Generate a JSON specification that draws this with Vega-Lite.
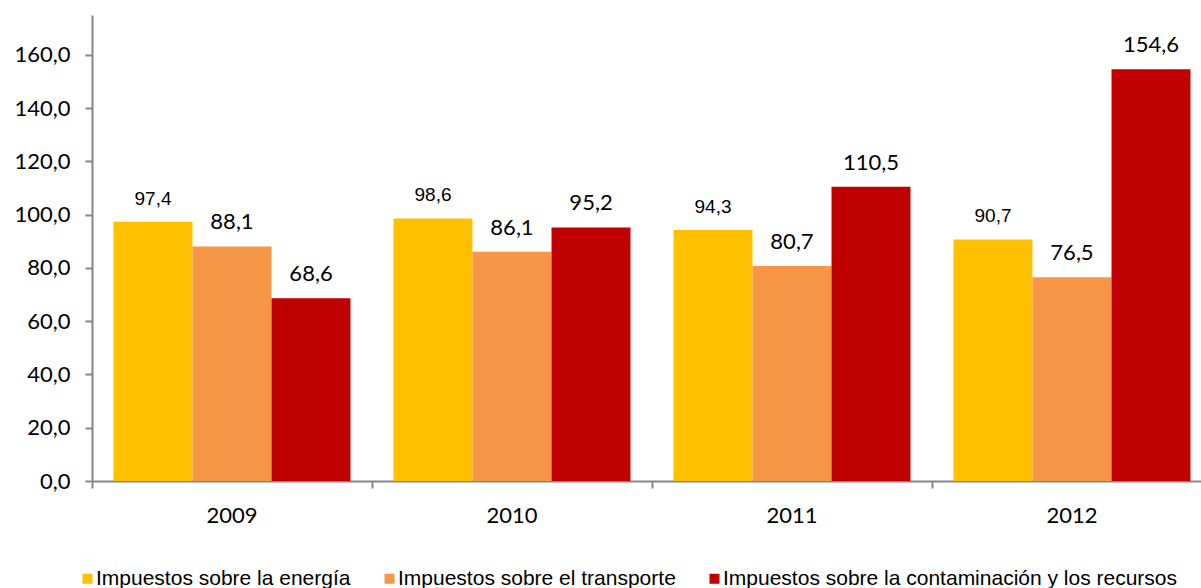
{
  "$schema": "https://vega.github.io/schema/vega-lite/v6.json",
  "autosize": {"type": "none"},
  "width": 1109,
  "height": 466,
  "padding": {"left": 92, "top": 15, "right": 0, "bottom": 107},
  "background": "white",
  "config": {
    "view": {"stroke": null},
    "locale": {"number": {"decimal": ",", "thousands": ".", "grouping": [3], "currency": ["", " €"]}}
  },
  "data": {
    "values": [
      {"year": "2009", "serie": "Impuestos sobre la energía", "value": 97.4},
      {"year": "2009", "serie": "Impuestos sobre el transporte", "value": 88.1},
      {"year": "2009", "serie": "Impuestos sobre la contaminación y los recursos", "value": 68.6},
      {"year": "2010", "serie": "Impuestos sobre la energía", "value": 98.6},
      {"year": "2010", "serie": "Impuestos sobre el transporte", "value": 86.1},
      {"year": "2010", "serie": "Impuestos sobre la contaminación y los recursos", "value": 95.2},
      {"year": "2011", "serie": "Impuestos sobre la energía", "value": 94.3},
      {"year": "2011", "serie": "Impuestos sobre el transporte", "value": 80.7},
      {"year": "2011", "serie": "Impuestos sobre la contaminación y los recursos", "value": 110.5},
      {"year": "2012", "serie": "Impuestos sobre la energía", "value": 90.7},
      {"year": "2012", "serie": "Impuestos sobre el transporte", "value": 76.5},
      {"year": "2012", "serie": "Impuestos sobre la contaminación y los recursos", "value": 154.6}
    ]
  },
  "resolve": {"axis": {"x": "independent"}},
  "layer": [
    {
      "mark": {"type": "bar"},
      "encoding": {
        "x": {
          "field": "year", "type": "nominal",
          "scale": {"range": [0, 1120], "paddingInner": 0, "paddingOuter": 0},
          "axis": {"orient": "bottom", "title": null, "labels": false, "bandPosition": 0, "tickSize": 7, "tickColor": "#868686", "tickWidth": 2, "domainColor": "#868686", "domainWidth": 2}
        },
        "xOffset": {
          "field": "serie", "type": "nominal",
          "scale": {"domain": ["Impuestos sobre la energía", "Impuestos sobre el transporte", "Impuestos sobre la contaminación y los recursos"], "paddingInner": 0, "paddingOuter": 0.272}
        },
        "y": {
          "field": "value", "type": "quantitative",
          "scale": {"domain": [0, 175], "nice": false},
          "axis": {"title": null, "values": [0, 20, 40, 60, 80, 100, 120, 140, 160], "format": ".1f", "grid": false, "tickSize": 7, "tickColor": "#868686", "tickWidth": 2, "domainColor": "#868686", "domainWidth": 2, "labelFont": "Lato", "labelFontSize": 22, "labelColor": "black", "labelPadding": 15}
        },
        "color": {
          "field": "serie", "type": "nominal",
          "scale": {"domain": ["Impuestos sobre la energía", "Impuestos sobre el transporte", "Impuestos sobre la contaminación y los recursos"], "range": ["#FFC000", "#F79646", "#C00000"]},
          "legend": {"title": null, "orient": "none", "legendX": -15, "legendY": 553, "direction": "horizontal", "symbolType": "square", "symbolSize": 100, "symbolStrokeWidth": 0, "labelFont": "Liberation Sans", "labelFontSize": 21, "labelColor": "black", "labelOffset": -2, "columnPadding": 28, "padding": 0, "labelLimit": 0}
        }
      }
    },
    {
      "transform": [{"filter": "datum.serie === 'Impuestos sobre la energía'"}],
      "mark": {"type": "text", "font": "Liberation Sans", "fontSize": 19, "color": "black", "baseline": "alphabetic", "dy": -17},
      "encoding": {
        "x": {
          "field": "year", "type": "nominal",
          "scale": {"range": [0, 1120], "paddingInner": 0, "paddingOuter": 0},
          "axis": {"orient": "bottom", "title": null, "ticks": false, "domain": false, "labelAngle": 0, "labelFont": "Lato", "labelFontSize": 22, "labelColor": "black", "labelPadding": 24}
        },
        "xOffset": {"field": "serie", "type": "nominal"},
        "y": {"field": "value", "type": "quantitative"},
        "text": {"field": "value", "type": "quantitative", "format": ".1f"}
      }
    },
    {
      "transform": [{"filter": "datum.serie !== 'Impuestos sobre la energía'"}],
      "mark": {"type": "text", "font": "Lato", "fontSize": 22, "color": "black", "baseline": "alphabetic", "dy": -17},
      "encoding": {
        "x": {"field": "year", "type": "nominal", "axis": null},
        "xOffset": {"field": "serie", "type": "nominal"},
        "y": {"field": "value", "type": "quantitative"},
        "text": {"field": "value", "type": "quantitative", "format": ".1f"}
      }
    }
  ]
}
